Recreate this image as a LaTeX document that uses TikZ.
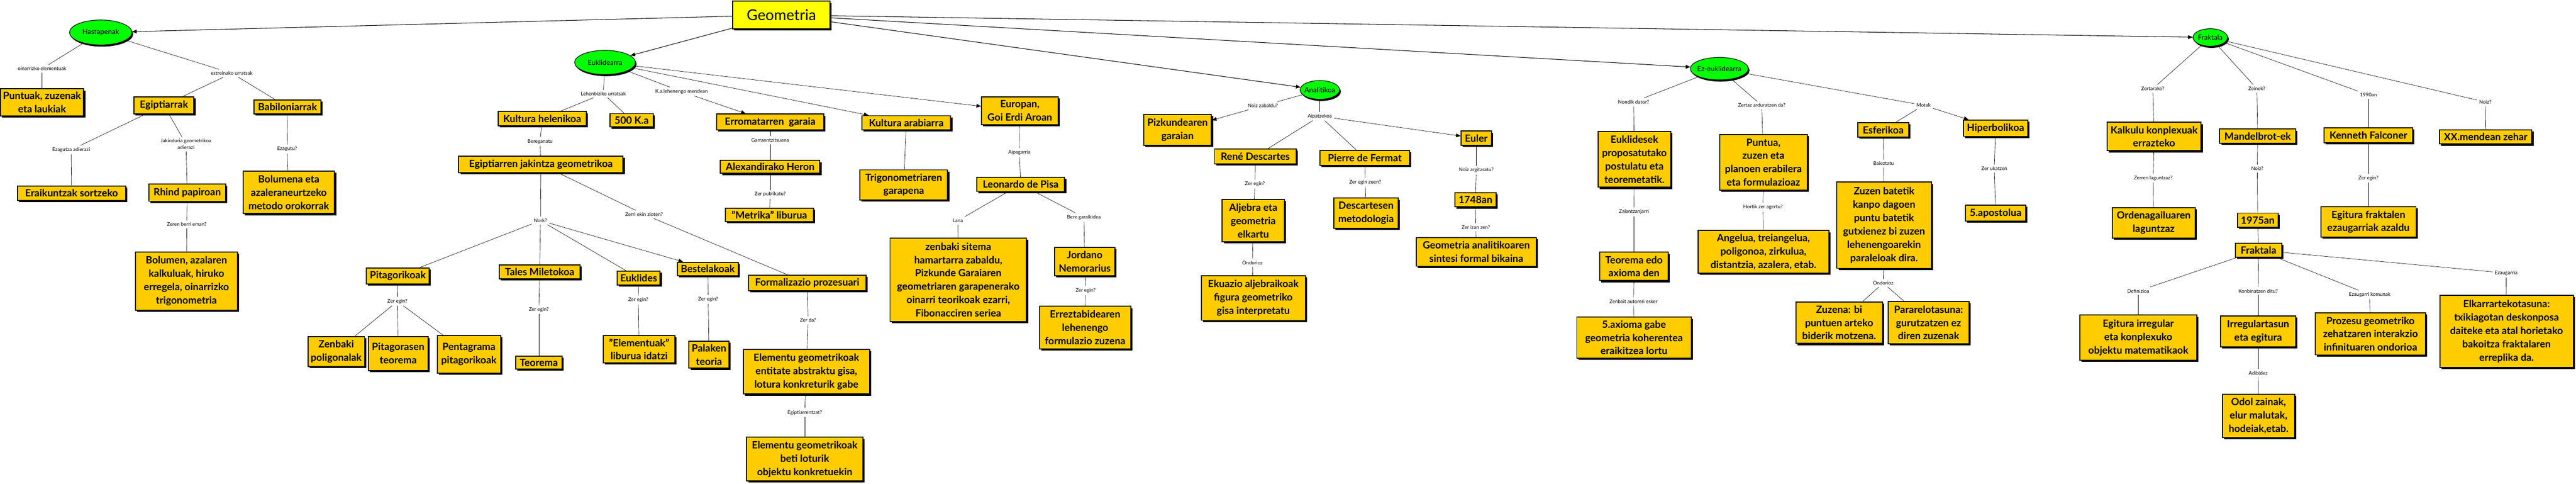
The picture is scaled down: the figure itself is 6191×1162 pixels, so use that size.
\documentclass[tikz,border=0pt]{standalone}
\usepackage{fontspec}
\setmainfont{Lato}
\usetikzlibrary{shapes.geometric,shadows,arrows.meta}
\definecolor{boxgold}{HTML}{FFCC00}
\definecolor{topyellow}{HTML}{FFFF00}
\definecolor{ellgreen}{HTML}{00FF00}
\tikzset{
  box/.style={draw, line width=2.4pt, fill=boxgold, align=center, inner sep=2pt,
    font=\bfseries\fontsize{24}{32}\selectfont,
    drop shadow={shadow xshift=4pt, shadow yshift=-4pt, fill=black, opacity=1}},
  topbox/.style={box, fill=topyellow, font=\fontsize{36}{40}\selectfont},
  ell/.style={ellipse, draw, line width=1.4pt, fill=ellgreen, inner xsep=-4pt, inner ysep=-2pt,
    font=\fontsize{17}{20}\selectfont,
    drop shadow={shadow xshift=3pt, shadow yshift=-4pt, fill=black, opacity=1}},
  lab/.style={align=center, inner sep=5pt, font=\fontsize{12}{15}\selectfont},
  con/.style={draw, line width=0.8pt},
  gcon/.style={draw, line width=1.3pt, -{Triangle[length=11pt,width=9pt]}},
  arr/.style={con, -{Triangle[length=11pt,width=9pt]}}
}
\begin{document}
\begin{tikzpicture}[x=1pt,y=-1pt]
\fill[white] (0,0) rectangle (6191,1162);
\useasboundingbox (0,0) rectangle (6191,1162);

% ---- main
\node[topbox, minimum width=234pt, minimum height=66pt] (geom) at (1878,36) {Geometria};
\node[ell, minimum width=150pt, minimum height=60pt] (hast) at (242,78) {Hastapenak};
\node[ell, minimum width=146pt, minimum height=58pt] (eukl) at (1454,150) {Euklidearra};
\node[ell, minimum width=95pt, minimum height=45pt] (anal) at (3172,216) {Analitikoa};
\node[ell, minimum width=128pt, minimum height=54pt] (ezeukl) at (4132,165) {Ez-euklidearra};
\node[ell, minimum width=83pt, minimum height=42pt] (frakell) at (5312,90) {Fraktala};

% ---- Hastapenak branch
\node[box, minimum width=200pt, minimum height=65pt] (puntuak) at (101,246) {Puntuak, zuzenak\\eta laukiak};
\node[box, minimum width=144pt, minimum height=41pt] (egipt) at (394,253) {Egiptiarrak};
\node[box, minimum width=161pt, minimum height=33pt] (babil) at (691,257) {Babiloniarrak};
\node[box, minimum width=260pt, minimum height=35pt] (eraik) at (172,464) {Eraikuntzak sortzeko};
\node[box, minimum width=184pt, minimum height=41pt] (rhind) at (450,463) {Rhind papiroan};
\node[box, minimum width=245pt, minimum height=140pt] (bolumen) at (448,675) {Bolumen, azalaren\\kalkuluak, hiruko\\erregela, oinarrizko\\trigonometria};
\node[box, minimum width=220pt, minimum height=102pt] (bolmet) at (694,462) {Bolumena eta\\azaleraneurtzeko\\metodo orokorrak};

\node[lab] (loin) at (101,165) {oinarrizko elementuak};
\node[lab] (lestr) at (557,176) {estreinako urratsak};
\node[lab] (lezagad) at (171,360) {Ezagutza adierazi};
\node[lab] (ljakin) at (447,346) {Jakinduria geometrikoa\\adierazi};
\node[lab] (lzeren) at (449,539) {Zeren berri eman?};
\node[lab] (lezagutu) at (690,358) {Ezagutu?};

% ---- Euklidearra branch
\node[box, minimum width=212pt, minimum height=34pt] (kulhel) at (1303,285) {Kultura helenikoa};
\node[box, minimum width=104pt, minimum height=32pt] (k500) at (1518,289) {500 K.a};
\node[box, minimum width=395pt, minimum height=40pt] (egjak) at (1300,395) {Egiptiarren jakintza geometrikoa};
\node[box, minimum width=151pt, minimum height=39pt] (pitag) at (956,663) {Pitagorikoak};
\node[box, minimum width=136pt, minimum height=72pt] (zenbpol) at (808,844) {Zenbaki\\poligonalak};
\node[box, minimum width=144pt, minimum height=82pt] (pitteo) at (957,849) {Pitagorasen\\teorema};
\node[box, minimum width=152pt, minimum height=90pt] (pentag) at (1127,851) {Pentagrama\\pitagorikoak};
\node[box, minimum width=195pt, minimum height=34pt] (tales) at (1297,653) {Tales Miletokoa};
\node[box, minimum width=111pt, minimum height=31pt] (teorema) at (1295,871) {Teorema};
\node[box, minimum width=103pt, minimum height=33pt] (euklides) at (1535,668) {Euklides};
\node[box, minimum width=172pt, minimum height=66pt] (elemliburu) at (1536,839) {"Elementuak"\\liburua idatzi};
\node[box, minimum width=146pt, minimum height=32pt] (bestel) at (1701,646) {Bestelakoak};
\node[box, minimum width=96pt, minimum height=65pt] (palaken) at (1704,852) {Palaken\\teoria};
\node[box, minimum width=282pt, minimum height=37pt] (formal) at (1940,680) {Formalizazio prozesuari};
\node[box, minimum width=303pt, minimum height=107pt] (elemabs) at (1938,893) {Elementu geometrikoak\\entitate abstraktu gisa,\\lotura konkreturik gabe};
\node[box, minimum width=279pt, minimum height=105pt] (elemkonk) at (1934,1103) {Elementu geometrikoak\\beti loturik\\objektu konkretuekin};
\node[box, minimum width=258pt, minimum height=38pt] (erroma) at (1851,293) {Erromatarren~~garaia};
\node[box, minimum width=239pt, minimum height=31pt] (heron) at (1851,401) {Alexandirako Heron};
\node[box, minimum width=212pt, minimum height=32pt] (metrika) at (1849,516) {"Metrika" liburua};
\node[box, minimum width=214pt, minimum height=34pt] (kularab) at (2178,295) {Kultura arabiarra};
\node[box, minimum width=211pt, minimum height=72pt] (trigon) at (2172,444) {Trigonometriaren\\garapena};
\node[box, minimum width=184pt, minimum height=67pt] (europan) at (2451,266) {Europan,\\Goi Erdi Aroan};
\node[box, minimum width=211pt, minimum height=34pt] (leonardo) at (2453,443) {Leonardo de Pisa};
\node[box, minimum width=328pt, minimum height=201pt] (zenbsis) at (2303,672) {zenbaki sitema\\hamartarra zabaldu,\\Pizkunde Garaiaren\\geometriaren garapenerako\\oinarri teorikoak ezarri,\\Fibonacciren seriea};
\node[box, minimum width=145pt, minimum height=68pt] (jordano) at (2607,628) {Jordano\\Nemorarius};
\node[box, minimum width=219pt, minimum height=102pt] (erreztab) at (2608,787) {Erreztabidearen\\lehenengo\\formulazio zuzena};

\node[lab] (llehen) at (1450,225) {Lehenbiziko urratsak};
\node[lab] (lkale) at (1638,220) {K.a.lehenengo mendean};
\node[lab] (lbereg) at (1298,340) {Bereganatu};
\node[lab] (lnork) at (1299,530) {Nork?};
\node[lab] (lzerri) at (1548,515) {Zerri ekin zioten?};
\node[lab] (lzeg1) at (955,724) {Zer egin?};
\node[lab] (lzeg2) at (1295,744) {Zer egin?};
\node[lab] (lzeg3) at (1534,721) {Zer egin?};
\node[lab] (lzeg4) at (1702,719) {Zer egin?};
\node[lab] (lzerda) at (1942,769) {Zer da?};
\node[lab] (legiptz) at (1934,991) {Egiptiarrentzat?};
\node[lab] (lgarr) at (1851,337) {Garranntzitsuena};
\node[lab] (lzerpub) at (1851,467) {Zer publikatu?};
\node[lab] (laipag) at (2450,366) {Aipagarria};
\node[lab] (llana) at (2302,530) {Lana};
\node[lab] (lbere) at (2605,522) {Bere garaikidea};
\node[lab] (lzeg5) at (2609,698) {Zer egin?};

% ---- Analitikoa branch
\node[box, minimum width=163pt, minimum height=74pt] (pizkun) at (2830,312) {Pizkundearen\\garaian};
\node[box, minimum width=196pt, minimum height=36pt] (descartes) at (3017,376) {René Descartes};
\node[box, minimum width=216pt, minimum height=36pt] (fermat) at (3280,379) {Pierre de Fermat};
\node[box, minimum width=73pt, minimum height=34pt] (euler) at (3548,332) {Euler};
\node[box, minimum width=149pt, minimum height=101pt] (aljebra) at (3012,530) {Aljebra eta\\geometria\\elkartu};
\node[box, minimum width=250pt, minimum height=107pt] (ekuazio) at (3012,716) {Ekuazio aljebraikoak\\figura geometriko\\gisa interpretatu};
\node[box, minimum width=155pt, minimum height=72pt] (desmet) at (3283,512) {Descartesen\\metodologia};
\node[box, minimum width=99pt, minimum height=34pt] (y1748) at (3546,480) {1748an};
\node[box, minimum width=288pt, minimum height=69pt] (geoanal) at (3548,605) {Geometria analitikoaren\\sintesi formal bikaina};

\node[lab] (lnoizzab) at (3035,254) {Noiz zabaldu?};
\node[lab] (laipat) at (3172,279) {Aipatzekoa};
\node[lab] (lzeg6) at (3016,442) {Zer egin?};
\node[lab] (londo1) at (3010,631) {Ondorioz};
\node[lab] (lzegzuen) at (3281,438) {Zer egin zuen?};
\node[lab] (lnoizarg) at (3548,409) {Noiz argitaratu?};
\node[lab] (lzerizan) at (3547,546) {Zer izan zen?};

% ---- Ez-euklidearra branch
\node[box, minimum width=174pt, minimum height=134pt] (euklprop) at (3928,383) {Euklidesek\\proposatutako\\postulatu eta\\teoremetatik.};
\node[box, minimum width=165pt, minimum height=68pt] (teoax) at (3927,640) {Teorema edo\\axioma den};
\node[box, minimum width=275pt, minimum height=98pt] (axioma5) at (3927,811) {5.axioma gabe\\geometria koherentea\\eraikitzea lortu};
\node[box, minimum width=211pt, minimum height=134pt] (puntua) at (4238,390) {Puntua,\\zuzen eta\\planoen erabilera\\eta formulazioaz};
\node[box, minimum width=315pt, minimum height=102pt] (angelua) at (4238,605) {Angelua, treiangelua,\\poligonoa, zirkulua,\\distantzia, azalera, etab.};
\node[box, minimum width=122pt, minimum height=35pt] (esfer) at (4526,312) {Esferikoa};
\node[box, minimum width=155pt, minimum height=39pt] (hiperb) at (4796,308) {Hiperbolikoa};
\node[box, minimum width=227pt, minimum height=207pt] (zuzenbat) at (4528,541) {Zuzen batetik\\kanpo dagoen\\puntu batetik\\gutxienez bi zuzen\\lehenengoarekin\\paraleloak dira.};
\node[box, minimum width=208pt, minimum height=100pt] (zuzena) at (4420,775) {Zuzena: bi\\puntuen arteko\\biderik motzena.};
\node[box, minimum width=194pt, minimum height=101pt] (pararel) at (4635,775) {Pararelotasuna:\\gurutzatzen ez\\diren zuzenak};
\node[box, minimum width=144pt, minimum height=39pt] (apost) at (4796,512) {5.apostolua};

\node[lab] (lnondik) at (3926,245) {Nondik dator?};
\node[lab] (lzalan) at (3927,509) {Zalantzanjarri};
\node[lab] (lzenbait) at (3926,724) {Zenbait autoreri esker};
\node[lab] (lzertaz) at (4234,253) {Zertaz arduratzen da?};
\node[lab] (lhortik) at (4237,498) {Hortik zer agertu?};
\node[lab] (lmotak) at (4623,253) {Motak};
\node[lab] (lbaiez) at (4527,393) {Baieztatu};
\node[lab] (londo2) at (4526,680) {Ondorioz};
\node[lab] (lzeruk) at (4793,405) {Zer ukatzen};

% ---- Fraktala branch
\node[box, minimum width=226pt, minimum height=68pt] (kalkulu) at (5177,328) {Kalkulu konplexuak\\errazteko};
\node[box, minimum width=200pt, minimum height=73pt] (ordena) at (5176,535) {Ordenagailuaren\\laguntzaz};
\node[box, minimum width=183pt, minimum height=34pt] (mandel) at (5426,327) {Mandelbrot-ek};
\node[box, minimum width=98pt, minimum height=34pt] (y1975) at (5426,529) {1975an};
\node[box, minimum width=112pt, minimum height=34pt] (frakbox) at (5428,601) {Fraktala};
\node[box, minimum width=213pt, minimum height=36pt] (kenneth) at (5692,325) {Kenneth Falconer};
\node[box, minimum width=229pt, minimum height=73pt] (egitfrak) at (5692,533) {Egitura fraktalen\\ezaugarriak azaldu};
\node[box, minimum width=222pt, minimum height=34pt] (xxmend) at (5974,329) {XX.mendean zehar};
\node[box, minimum width=281pt, minimum height=108pt] (egitirr) at (5139,811) {Egitura irregular\\eta konplexuko\\objektu matematikaok};
\node[box, minimum width=181pt, minimum height=74pt] (irreg) at (5427,796) {Irregulartasun\\eta egitura};
\node[box, minimum width=174pt, minimum height=104pt] (odol) at (5428,999) {Odol zainak,\\elur malutak,\\hodeiak,etab.};
\node[box, minimum width=265pt, minimum height=101pt] (prozesu) at (5697,802) {Prozesu geometriko\\zehatzaren interakzio\\infinituaren ondorioa};
\node[box, minimum width=321pt, minimum height=174pt] (elkar) at (6024,796) {Elkarrartekotasuna:\\txikiagotan deskonposa\\daiteke eta atal horietako\\bakoitza fraktalaren\\erreplika da.};

\node[lab] (lzertar) at (5174,213) {Zertarako?};
\node[lab] (lzerren) at (5175,428) {Zerren laguntzaz?};
\node[lab] (lzeinek) at (5424,213) {Zeinek?};
\node[lab] (lnoiz1) at (5425,405) {Noiz?};
\node[lab] (l1990) at (5692,228) {1990an};
\node[lab] (lzeg7) at (5692,428) {Zer egin?};
\node[lab] (lnoiz2) at (5973,245) {Noiz?};
\node[lab] (ldefin) at (5139,699) {Definizioa};
\node[lab] (lkonb) at (5427,699) {Konbinatzen ditu?};
\node[lab] (ladib) at (5427,896) {Adibidez};
\node[lab] (lezkom) at (5695,708) {Ezaugarri komunak};
\node[lab] (lezag) at (6023,656) {Ezaugarria};

% ---- connectors from Geometria
\draw[gcon] (geom) -- (hast);
\draw[gcon] (geom) -- (eukl);
\draw[gcon] (geom) -- (anal);
\draw[gcon] (geom) -- (ezeukl);
\draw[gcon] (geom) -- (frakell);

% Hastapenak
\draw[con] (hast) -- (loin);
\draw[con] (loin) -- (puntuak);
\draw[con] (hast) -- (lestr);
\draw[con] (lestr) -- (egipt);
\draw[con] (lestr) -- (babil);
\draw[con] (egipt) -- (lezagad);
\draw[con] (lezagad) -- (eraik);
\draw[con] (egipt) -- (ljakin);
\draw[con] (ljakin) -- (rhind);
\draw[con] (rhind) -- (lzeren);
\draw[con] (lzeren) -- (bolumen);
\draw[con] (babil) -- (lezagutu);
\draw[con] (lezagutu) -- (bolmet);

% Euklidearra
\draw[con] (eukl) -- (llehen);
\draw[con] (llehen) -- (kulhel);
\draw[con] (llehen) -- (k500);
\draw[con] (eukl) -- (lkale);
\draw[arr] (lkale) -- (erroma);
\draw[arr] (eukl) -- (kularab);
\draw[arr] (eukl) -- (europan);
\draw[con] (kulhel) -- (lbereg);
\draw[con] (lbereg) -- (egjak);
\draw[con] (egjak) -- (lnork);
\draw[con] (egjak) -- (lzerri);
\draw[con] (lzerri) -- (formal);
\draw[con] (lnork) -- (pitag);
\draw[con] (lnork) -- (tales);
\draw[con] (lnork) -- (euklides);
\draw[arr] (lnork) -- (bestel);
\draw[con] (pitag) -- (lzeg1);
\draw[con] (lzeg1) -- (zenbpol);
\draw[con] (lzeg1) -- (pitteo);
\draw[con] (lzeg1) -- (pentag);
\draw[con] (tales) -- (lzeg2);
\draw[con] (lzeg2) -- (teorema);
\draw[con] (euklides) -- (lzeg3);
\draw[con] (lzeg3) -- (elemliburu);
\draw[con] (bestel) -- (lzeg4);
\draw[con] (lzeg4) -- (palaken);
\draw[con] (formal) -- (lzerda);
\draw[con] (lzerda) -- (elemabs);
\draw[con] (elemabs) -- (legiptz);
\draw[con] (legiptz) -- (elemkonk);
\draw[con] (erroma) -- (lgarr);
\draw[con] (lgarr) -- (heron);
\draw[con] (heron) -- (lzerpub);
\draw[con] (lzerpub) -- (metrika);
\draw[con] (kularab) -- (trigon);
\draw[con] (europan) -- (laipag);
\draw[con] (laipag) -- (leonardo);
\draw[con] (leonardo) -- (llana);
\draw[con] (llana) -- (zenbsis);
\draw[con] (leonardo) -- (lbere);
\draw[con] (lbere) -- (jordano);
\draw[con] (jordano) -- (lzeg5);
\draw[con] (lzeg5) -- (erreztab);

% Analitikoa
\draw[con] (anal) -- (lnoizzab);
\draw[arr] (lnoizzab) -- (pizkun);
\draw[con] (anal) -- (laipat);
\draw[con] (laipat) -- (descartes);
\draw[con] (laipat) -- (fermat);
\draw[arr] (laipat) -- (euler);
\draw[con] (descartes) -- (lzeg6);
\draw[con] (lzeg6) -- (aljebra);
\draw[con] (aljebra) -- (londo1);
\draw[con] (londo1) -- (ekuazio);
\draw[con] (fermat) -- (lzegzuen);
\draw[con] (lzegzuen) -- (desmet);
\draw[con] (euler) -- (lnoizarg);
\draw[con] (lnoizarg) -- (y1748);
\draw[con] (y1748) -- (lzerizan);
\draw[con] (lzerizan) -- (geoanal);

% Ez-euklidearra
\draw[con] (ezeukl) -- (lnondik);
\draw[con] (lnondik) -- (euklprop);
\draw[con] (euklprop) -- (lzalan);
\draw[con] (lzalan) -- (teoax);
\draw[con] (teoax) -- (lzenbait);
\draw[con] (lzenbait) -- (axioma5);
\draw[con] (ezeukl) -- (lzertaz);
\draw[con] (lzertaz) -- (puntua);
\draw[con] (puntua) -- (lhortik);
\draw[con] (lhortik) -- (angelua);
\draw[con] (ezeukl) -- (lmotak);
\draw[con] (lmotak) -- (esfer);
\draw[arr] (lmotak) -- (hiperb);
\draw[con] (esfer) -- (lbaiez);
\draw[con] (lbaiez) -- (zuzenbat);
\draw[con] (zuzenbat) -- (londo2);
\draw[con] (londo2) -- (zuzena);
\draw[con] (londo2) -- (pararel);
\draw[con] (hiperb) -- (lzeruk);
\draw[con] (lzeruk) -- (apost);

% Fraktala
\draw[con] (frakell) -- (lzertar);
\draw[con] (lzertar) -- (kalkulu);
\draw[con] (kalkulu) -- (lzerren);
\draw[con] (lzerren) -- (ordena);
\draw[con] (frakell) -- (lzeinek);
\draw[con] (lzeinek) -- (mandel);
\draw[con] (mandel) -- (lnoiz1);
\draw[con] (lnoiz1) -- (y1975);
\draw[con] (y1975) -- (frakbox);
\draw[con] (frakell) -- (l1990);
\draw[con] (l1990) -- (kenneth);
\draw[con] (kenneth) -- (lzeg7);
\draw[con] (lzeg7) -- (egitfrak);
\draw[con] (frakell) -- (lnoiz2);
\draw[con] (lnoiz2) -- (xxmend);
\draw[con] (frakbox) -- (ldefin);
\draw[con] (ldefin) -- (egitirr);
\draw[con] (frakbox) -- (lkonb);
\draw[con] (lkonb) -- (irreg);
\draw[con] (irreg) -- (ladib);
\draw[con] (ladib) -- (odol);
\draw[con] (frakbox) -- (lezkom);
\draw[con] (lezkom) -- (prozesu);
\draw[con] (frakbox) -- (lezag);
\draw[con] (lezag) -- (elkar);
\end{tikzpicture}
\end{document}
